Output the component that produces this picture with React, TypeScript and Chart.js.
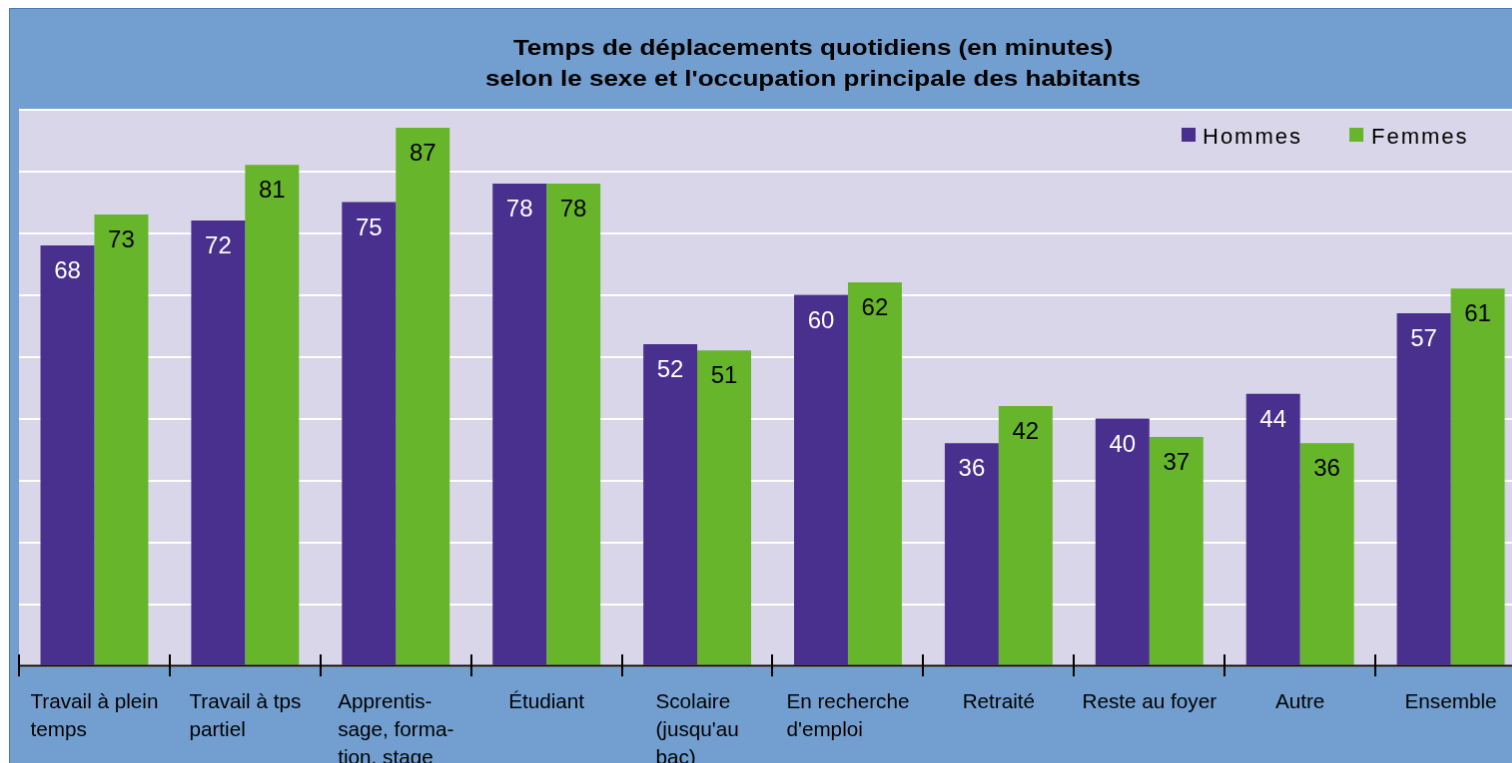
import React, { useEffect, useRef } from "react";
import { Chart, registerables } from "chart.js";

Chart.register(...registerables);

// ---------- data ----------
const categories: string[][] = [
  ["Travail à plein", "temps"],
  ["Travail à tps", "partiel"],
  ["Apprentis-", "sage, forma-", "tion, stage"],
  ["Étudiant"],
  ["Scolaire", "(jusqu'au", "bac)"],
  ["En recherche", "d'emploi"],
  ["Retraité"],
  ["Reste au foyer"],
  ["Autre"],
  ["Ensemble"],
];
const seriesNames = ["Hommes", "Femmes"];
const hommes = [68, 72, 75, 78, 52, 60, 36, 40, 44, 57];
const femmes = [73, 81, 87, 78, 51, 62, 42, 37, 36, 61];
const yMin = 0;
const yMax = 90;
const yStep = 10;
const titleLines = [
  "Temps de déplacements quotidiens (en minutes)",
  "selon le sexe et l'occupation principale des habitants",
];

// ---------- styles ----------
const OUTER_BG = "#729fcf";
const PLOT_BG = "#d9d6e9";
const PURPLE = "#49308f";
const GREEN = "#66b52a";
const FONT = "'Liberation Sans', Arial, sans-serif";

const CANVAS_W = 1608;
const CANVAS_H = 800;

const decorPlugin = {
  id: "decor",
  beforeDraw(chart: any) {
    const { ctx, chartArea: a, width, height } = chart;
    ctx.save();
    ctx.fillStyle = OUTER_BG;
    ctx.fillRect(0, 0, width, height);
    ctx.fillStyle = PLOT_BG;
    ctx.fillRect(a.left, a.top, a.right - a.left, a.bottom - a.top);
    ctx.restore();
  },
  afterDatasetsDraw(chart: any) {
    const { ctx, chartArea: a } = chart;
    const xs = chart.scales.x;
    ctx.save();

    // x axis line
    ctx.fillStyle = "#000";
    ctx.fillRect(a.left, a.bottom - 1, a.right - a.left, 2);
    // tick marks at category boundaries
    const step = xs.getPixelForValue(1) - xs.getPixelForValue(0);
    for (let i = 0; i <= categories.length; i++) {
      const x = xs.getPixelForValue(0) - step / 2 + i * step;
      ctx.fillRect(Math.round(x) - 1, a.bottom - 11.5, 2, 22);
    }

    // value labels
    ctx.font = `24px ${FONT}`;
    ctx.textAlign = "center";
    ctx.textBaseline = "alphabetic";
    chart.data.datasets.forEach((ds: any, d: number) => {
      const meta = chart.getDatasetMeta(d);
      ctx.fillStyle = d === 0 ? "#ffffff" : "#000000";
      meta.data.forEach((bar: any, i: number) => {
        ctx.fillText(String(ds.data[i]), bar.x, bar.y + 33);
      });
    });

    // category labels: block centred, lines left-aligned
    ctx.font = `20.7px ${FONT}`;
    ctx.fillStyle = "#000";
    ctx.textAlign = "left";
    categories.forEach((lines, i) => {
      const cx = xs.getPixelForValue(i);
      const w = Math.max(...lines.map((l) => ctx.measureText(l).width));
      const left = cx - w / 2;
      lines.forEach((l, k) => {
        ctx.fillText(l, left, a.bottom + 42 + k * 28);
      });
    });

    // legend
    const legendItems = [
      { name: seriesNames[0], color: PURPLE, sq: 1173, tx: 1194 },
      { name: seriesNames[1], color: GREEN, sq: 1341, tx: 1363 },
    ];
    ctx.font = `22px ${FONT}`;
    (ctx as any).letterSpacing = "2px";
    legendItems.forEach((it) => {
      ctx.fillStyle = it.color;
      ctx.fillRect(it.sq, 119, 14, 14);
      ctx.fillStyle = "#000";
      ctx.fillText(it.name, it.tx, 135);
    });
    (ctx as any).letterSpacing = "0px";

    // title
    ctx.font = `bold 22.5px ${FONT}`;
    ctx.textAlign = "center";
    titleLines.forEach((t, k) => {
      ctx.save();
      ctx.translate(804, 45.5 + k * 31);
      ctx.scale(1.155, 1);
      ctx.fillText(t, 0, 0);
      ctx.restore();
    });

    ctx.restore();
  },
};

export default function App() {
  const ref = useRef<HTMLCanvasElement | null>(null);

  useEffect(() => {
    if (!ref.current) return;
    const chart = new Chart(ref.current, {
      type: "bar",
      data: {
        labels: categories.map((c) => c.join(" ")),
        datasets: [
          {
            label: seriesNames[0],
            data: hommes,
            backgroundColor: PURPLE,
            borderWidth: 0,
            barPercentage: 1.0,
            categoryPercentage: 0.715,
          },
          {
            label: seriesNames[1],
            data: femmes,
            backgroundColor: GREEN,
            borderWidth: 0,
            barPercentage: 1.0,
            categoryPercentage: 0.715,
          },
        ],
      },
      options: {
        responsive: false,
        animation: false,
        devicePixelRatio: 1,
        layout: {
          padding: { left: 9, top: 100.5, right: 90, bottom: CANVAS_H - 658.5 },
        },
        plugins: {
          legend: { display: false },
          title: { display: false },
          tooltip: { enabled: false },
        },
        scales: {
          x: { display: false, offset: true },
          y: {
            display: true,
            min: yMin,
            max: yMax,
            ticks: { display: false, stepSize: yStep },
            border: { display: false },
            grid: { color: "#ffffff", lineWidth: 2, drawTicks: false },
          },
        },
      },
      plugins: [decorPlugin],
    });
    return () => chart.destroy();
  }, []);

  return (
    <div
      style={{
        position: "absolute",
        left: 0,
        top: 0,
        width: 1512,
        height: 763,
        overflow: "hidden",
        background: "#fff",
      }}
    >
      <canvas
        ref={ref}
        width={CANVAS_W}
        height={CANVAS_H}
        style={{
          position: "absolute",
          left: 9,
          top: 8,
          width: CANVAS_W,
          height: CANVAS_H,
          border: "1px solid #4a7bb7",
          display: "block",
        }}
      />
    </div>
  );
}
